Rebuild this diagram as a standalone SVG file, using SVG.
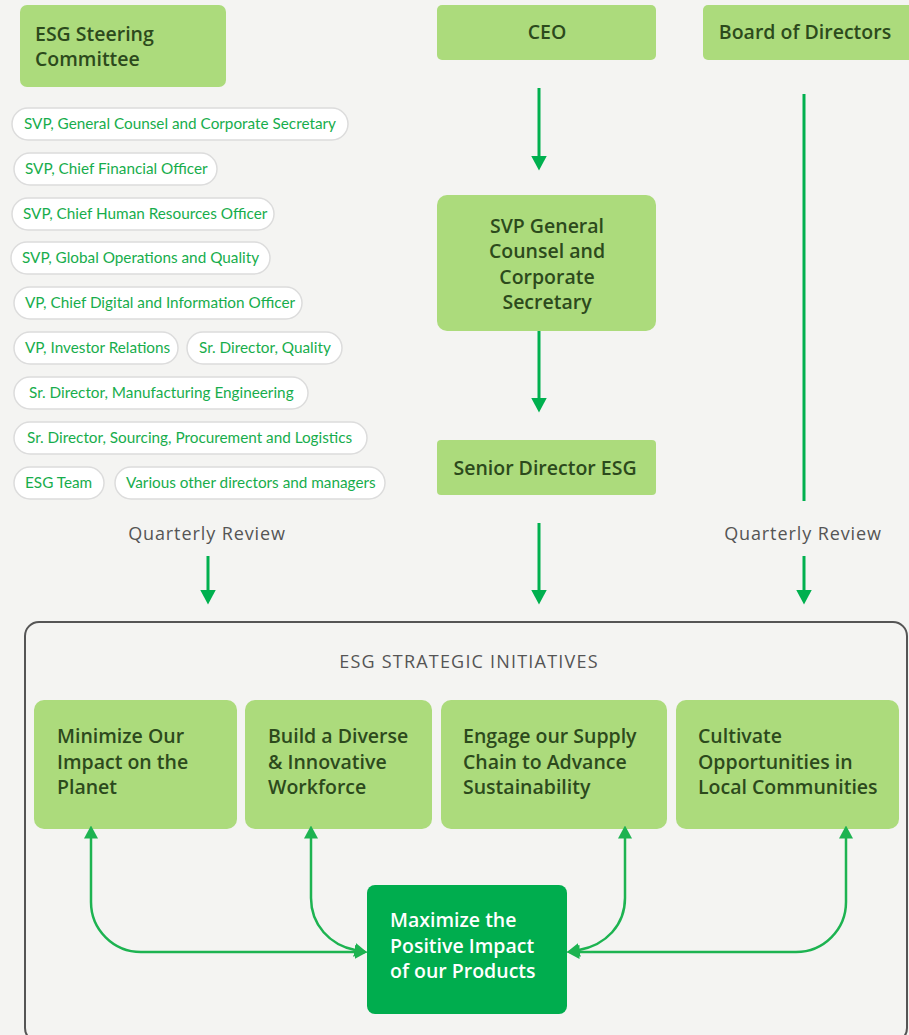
<svg xmlns="http://www.w3.org/2000/svg" width="909" height="1035" viewBox="0 0 909 1035">
<style>
.bg{fill:#f4f4f2}
.box{fill:#acdb7c}
.t{font-family:"Open Sans","Liberation Sans",sans-serif;font-weight:600;font-size:19.5px;fill:#2c4a1c}
.tw{font-family:"Open Sans","Liberation Sans",sans-serif;font-weight:600;font-size:19.5px;fill:#ffffff}
.pill{fill:#ffffff;stroke:#dcdcdc;stroke-width:1.5}
.pt{font-family:"Lato","Liberation Sans",sans-serif;font-size:15.3px;fill:#17ad4c}
.g{font-family:"Open Sans","Liberation Sans",sans-serif;font-size:18px;fill:#555555;letter-spacing:0.9px}
.h{font-family:"Open Sans","Liberation Sans",sans-serif;font-size:18px;fill:#555555;letter-spacing:1.2px}
.ln{fill:none;stroke:#00b04f;stroke-width:3}
.ln2{fill:none;stroke:#1db351;stroke-width:2.5}
</style>
<defs>
<marker id="ah" viewBox="0 0 15 16" refX="0.5" refY="8" markerWidth="15" markerHeight="16" markerUnits="userSpaceOnUse" orient="auto-start-reverse"><path d="M0,0 L15,8 L0,16 z" fill="#00b04f"/></marker>
<marker id="ah2" viewBox="0 0 13 14" refX="0.5" refY="7" markerWidth="13" markerHeight="14" markerUnits="userSpaceOnUse" orient="auto-start-reverse"><path d="M0,0 L13,7 L0,14 z" fill="#1db351"/></marker>
</defs>
<rect class="bg" x="0" y="0" width="909" height="1035"/>

<g id="steering">
<rect class="box" x="20" y="5" width="206" height="82" rx="7"/>
<text class="t" x="35" y="41">ESG Steering</text>
<text class="t" x="35" y="66">Committee</text>
</g>

<g id="members">
<g id="m1"><rect class="pill" x="12" y="108" width="336" height="32" rx="16"/><text class="pt" x="24" y="129">SVP, General Counsel and Corporate Secretary</text></g>
<g id="m2"><rect class="pill" x="14" y="153" width="203" height="32" rx="16"/><text class="pt" x="25" y="174">SVP, Chief Financial Officer</text></g>
<g id="m3"><rect class="pill" x="12" y="198" width="262" height="32" rx="16"/><text class="pt" x="23" y="219">SVP, Chief Human Resources Officer</text></g>
<g id="m4"><rect class="pill" x="11" y="242" width="259" height="32" rx="16"/><text class="pt" x="22" y="263">SVP, Global Operations and Quality</text></g>
<g id="m5"><rect class="pill" x="14" y="287" width="288" height="32" rx="16"/><text class="pt" x="25" y="308">VP, Chief Digital and Information Officer</text></g>
<g id="m6"><rect class="pill" x="14" y="332" width="164" height="32" rx="16"/><text class="pt" x="25" y="353">VP, Investor Relations</text></g>
<g id="m7"><rect class="pill" x="187" y="332" width="155" height="32" rx="16"/><text class="pt" x="199" y="353">Sr. Director, Quality</text></g>
<g id="m8"><rect class="pill" x="14" y="377" width="294" height="32" rx="16"/><text class="pt" x="29" y="398">Sr. Director, Manufacturing Engineering</text></g>
<g id="m9"><rect class="pill" x="14" y="422" width="353" height="32" rx="16"/><text class="pt" x="27" y="443">Sr. Director, Sourcing, Procurement and Logistics</text></g>
<g id="m10"><rect class="pill" x="14" y="467" width="90" height="32" rx="16"/><text class="pt" x="25" y="488">ESG Team</text></g>
<g id="m11"><rect class="pill" x="115" y="467" width="270" height="32" rx="16"/><text class="pt" x="126" y="488">Various other directors and managers</text></g>
</g>

<g id="ceo">
<rect class="box" x="437" y="5" width="219" height="55" rx="5"/>
<text class="t" x="547" y="39" text-anchor="middle">CEO</text>
</g>
<g id="board">
<rect class="box" x="703" y="5" width="210" height="55" rx="5"/>
<text class="t" x="805" y="39" text-anchor="middle">Board of Directors</text>
</g>
<g id="svp">
<rect class="box" x="437" y="195" width="219" height="136" rx="10"/>
<text class="t" x="547" y="233" text-anchor="middle">SVP General</text>
<text class="t" x="547" y="258" text-anchor="middle">Counsel and</text>
<text class="t" x="547" y="284" text-anchor="middle">Corporate</text>
<text class="t" x="547" y="309" text-anchor="middle">Secretary</text>
</g>
<g id="sdesg">
<rect class="box" x="437" y="440" width="219" height="55" rx="4"/>
<text class="t" x="545" y="475" text-anchor="middle">Senior Director ESG</text>
</g>

<g id="labels">
<text class="g" x="207" y="540" text-anchor="middle">Quarterly Review</text>
<text class="g" x="803" y="540" text-anchor="middle">Quarterly Review</text>
</g>

<g id="initiatives">
<rect x="25" y="622" width="882" height="420" rx="14" fill="none" stroke="#555555" stroke-width="2"/>
<text class="h" x="469" y="668" text-anchor="middle">ESG STRATEGIC INITIATIVES</text>
</g>

<g id="i1">
<rect class="box" x="34" y="700" width="203" height="129" rx="10"/>
<text class="t" x="57" y="743">Minimize Our</text>
<text class="t" x="57" y="769">Impact on the</text>
<text class="t" x="57" y="794">Planet</text>
</g>
<g id="i2">
<rect class="box" x="245" y="700" width="187" height="129" rx="10"/>
<text class="t" x="268" y="743">Build a Diverse</text>
<text class="t" x="268" y="769">&amp; Innovative</text>
<text class="t" x="268" y="794">Workforce</text>
</g>
<g id="i3">
<rect class="box" x="441" y="700" width="226" height="129" rx="10"/>
<text class="t" x="463" y="743">Engage our Supply</text>
<text class="t" x="463" y="769">Chain to Advance</text>
<text class="t" x="463" y="794">Sustainability</text>
</g>
<g id="i4">
<rect class="box" x="676" y="700" width="223" height="129" rx="10"/>
<text class="t" x="698" y="743">Cultivate</text>
<text class="t" x="698" y="769">Opportunities in</text>
<text class="t" x="698" y="794">Local Communities</text>
</g>
<g id="maximize">
<rect x="367" y="885" width="200" height="129" rx="8" fill="#00ad4e"/>
<text class="tw" x="390" y="927">Maximize the</text>
<text class="tw" x="390" y="953">Positive Impact</text>
<text class="tw" x="390" y="978">of our Products</text>
</g>

<g id="connectors">
<path class="ln" d="M539,88 V156" marker-end="url(#ah)"/>
<path class="ln" d="M539,331 V398" marker-end="url(#ah)"/>
<path class="ln" d="M539,523 V590" marker-end="url(#ah)"/>
<path class="ln" d="M208,556 V590" marker-end="url(#ah)"/>
<path class="ln" d="M804,94 V501"/>
<path class="ln" d="M804,556 V590" marker-end="url(#ah)"/>
<path class="ln2" d="M91,838 V902 A50,50 0 0 0 141,952 H355" marker-start="url(#ah2)" marker-end="url(#ah2)"/>
<path class="ln2" d="M311,838 V898 C311,925 330,945 355,950" marker-start="url(#ah2)" marker-end="url(#ah2)"/>
<path class="ln2" d="M625,838 V898 C625,925 606,945 579,950" marker-start="url(#ah2)" marker-end="url(#ah2)"/>
<path class="ln2" d="M846,838 V902 A50,50 0 0 1 796,952 H579" marker-start="url(#ah2)" marker-end="url(#ah2)"/>
</g>
</svg>
